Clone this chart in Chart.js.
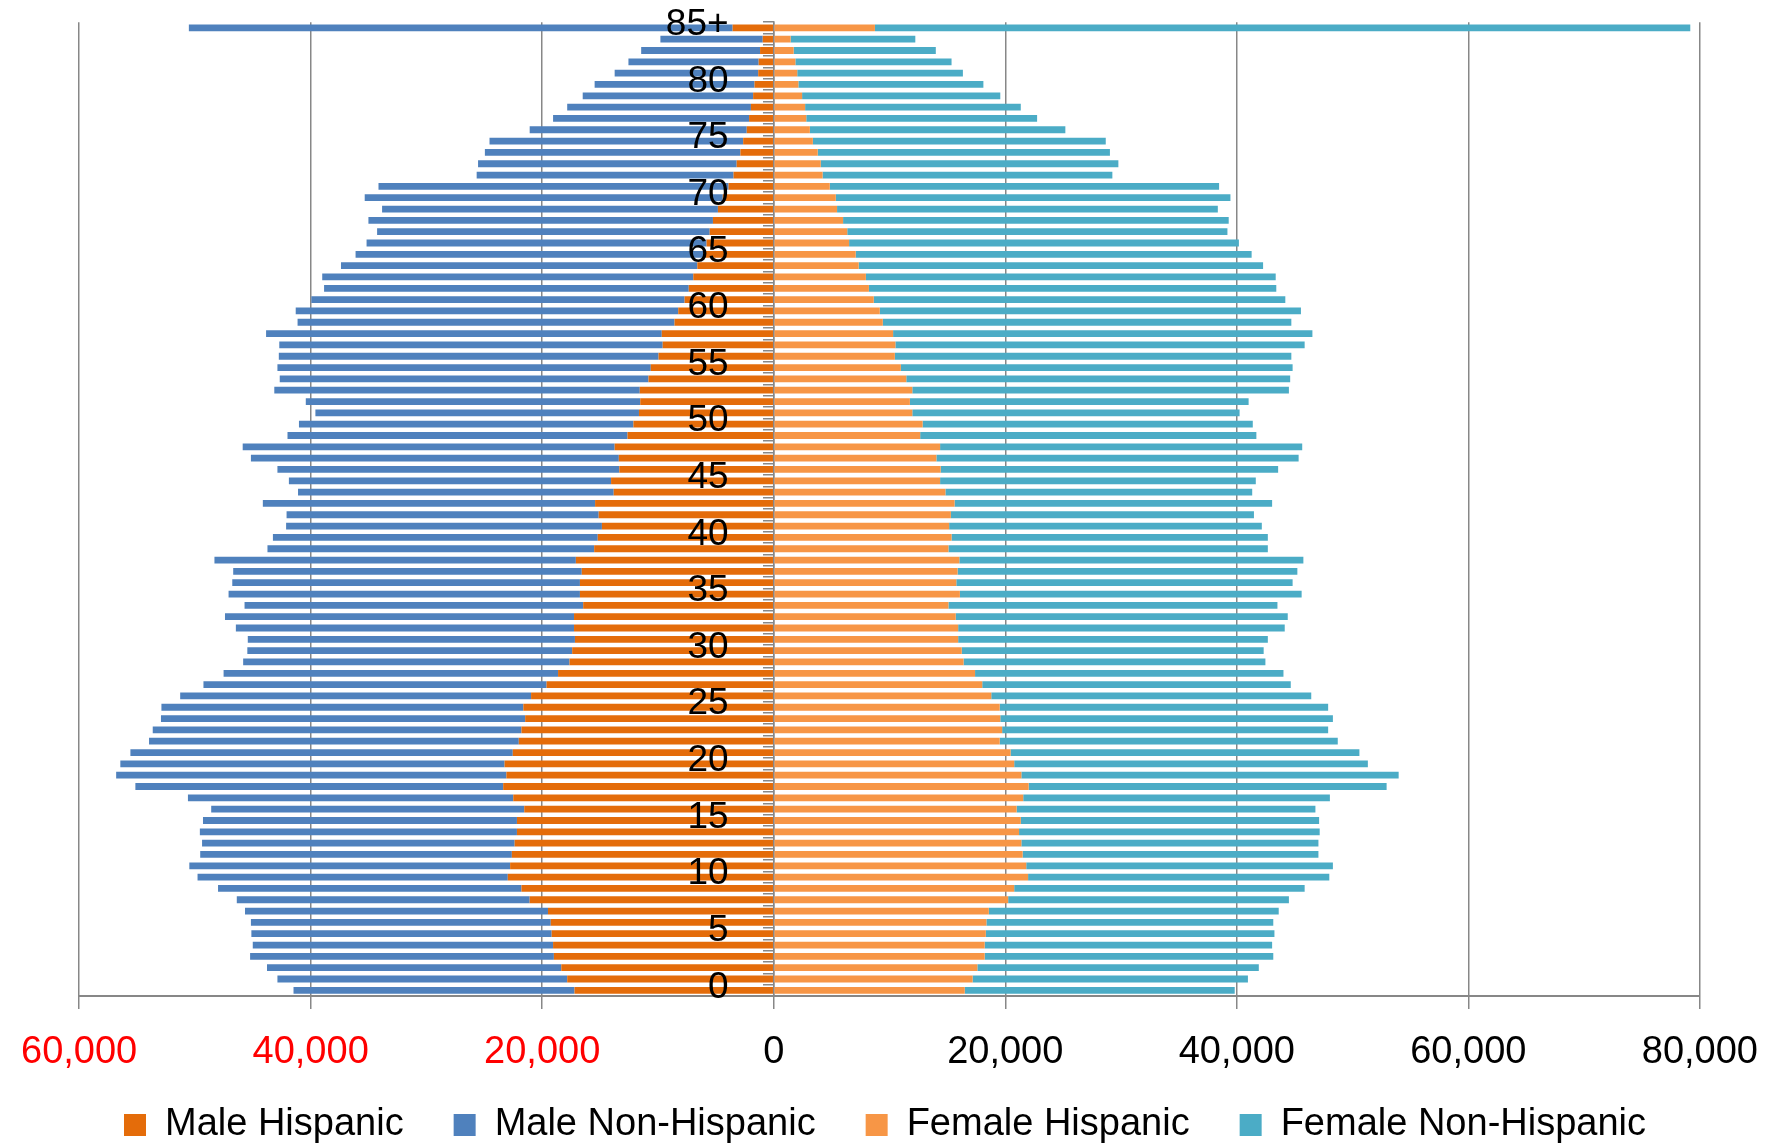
<!DOCTYPE html>
<html>
<head>
<meta charset="utf-8">
<script src="https://cdn.jsdelivr.net/npm/chart.js@4"></script>
<style>
  html, body { margin: 0; padding: 0; background: #fff; }
  #wrap { width: 1779px; height: 1147px; position: relative; }
</style>
</head>
<body>
<div id="wrap"><canvas id="pyramid"></canvas></div>
<script>
// age groups, youngest first (axis is reversed so 0 sits at the bottom)
const ageLabels = ['0','1','2','3','4','5','6','7','8','9','10','11','12','13','14','15','16','17','18','19',
  '20','21','22','23','24','25','26','27','28','29','30','31','32','33','34','35','36','37','38','39',
  '40','41','42','43','44','45','46','47','48','49','50','51','52','53','54','55','56','57','58','59',
  '60','61','62','63','64','65','66','67','68','69','70','71','72','73','74','75','76','77','78','79',
  '80','81','82','83','84','85+'];

// population counts per age (males plotted to the left)
const maleHispanic = [17210,17840,18350,18990,19060,19180,19260,19500,21080,21790,
  22970,22770,22620,22380,22180,22180,21550,22500,23370,23090,
  23250,22540,22020,21790,21470,21630,20960,19620,18630,17640,
  17410,17170,17250,17250,16460,16740,16740,16580,17090,15510,
  15200,14840,15120,15430,13820,14050,13340,13380,13740,12630,
  12120,11640,11530,11570,10820,10620,9950,9590,9670,8570,
  8250,7700,7340,6950,6600,6100,5800,5530,5250,4820,
  4400,3900,3470,3200,2880,2640,2330,2130,1970,1780,
  1660,1340,1300,1180,950,3550];

const maleNonHispanic = [24270,25030,25420,26240,25940,25940,25900,26170,25300,26210,
  26800,27710,26920,27000,27390,27120,27040,28100,31770,33710,
  33190,33030,31940,31850,31460,31260,30310,29640,28890,28190,
  28060,28260,29210,30150,29250,30350,30030,30110,31220,28220,
  28060,27280,26960,28700,27270,27830,29530,31780,32130,29370,
  28890,27950,28890,31570,31850,32250,32800,33120,34180,32560,
  33040,32240,31500,32050,30780,30020,29370,28730,29760,29010,
  30930,30240,22190,22340,22070,21910,18750,16930,15870,14720,
  13810,12400,11250,10270,8840,46970];

const femaleHispanic = [16500,17180,17590,18220,18220,18320,18370,18580,20250,20770,
  21970,21810,21500,21390,21190,21340,20980,21550,22020,21390,
  20770,20460,19520,19730,19570,19520,18790,18010,17390,16400,
  16240,15930,15930,15720,15090,16080,15770,15880,16030,15090,
  15360,15150,15300,15620,14830,14370,14420,14050,14370,12650,
  12860,11970,11760,11970,11450,10980,10460,10510,10310,9420,
  9160,8640,8220,7960,7340,7080,6510,6350,5990,5470,
  5360,4840,4220,4060,3800,3380,3120,2810,2710,2450,
  2130,2030,1870,1720,1460,8740];

const femaleNonHispanic = [23320,23780,24310,24930,24830,24930,24780,25040,24250,25090,
  26020,26490,25550,25660,25970,25770,25810,26490,30920,32590,
  30550,30130,29200,28160,28730,28370,27640,26650,26640,26070,
  26080,26750,28210,28680,28420,29520,29050,29350,29720,27590,
  27320,27010,26180,27430,26500,27270,29150,31290,31280,29040,
  28520,28270,29260,32530,33160,33840,34250,35350,36220,35290,
  36380,35550,35190,35400,34930,34200,33670,32840,33310,32890,
  34090,33630,25030,25710,25240,25300,22070,19940,18630,17120,
  15980,14310,13490,12280,10770,70430];

const xMin = -60000;
const xMax = 80000;
const xStep = 20000;

const FONT = "'Liberation Sans', Arial, sans-serif";
const GRID = '#878787';

function showAge(label, i) {
  // only every fifth age is written, plus the open-ended top group
  return (i % 5 === 0 || label === '85+') ? label : '';
}

// pull the legend up closer to the tick labels (its padding also sets the gap between items)
const legendNudge = {
  id: 'legendNudge',
  afterLayout(chart) {
    chart.legend.top -= 20;
    chart.legend.bottom -= 20;
  }
};

const ctx = document.getElementById('pyramid').getContext('2d');
new Chart(ctx, {
  type: 'bar',
  data: {
    labels: ageLabels,
    datasets: [
      { label: 'Male Hispanic', data: maleHispanic.map(v => -v), backgroundColor: '#E46C0A' },
      { label: 'Male Non-Hispanic', data: maleNonHispanic.map(v => -v), backgroundColor: '#4F81BD' },
      { label: 'Female Hispanic', data: femaleHispanic, backgroundColor: '#F79646' },
      { label: 'Female Non-Hispanic', data: femaleNonHispanic, backgroundColor: '#4BACC6' }
    ]
  },
  plugins: [legendNudge],
  options: {
    indexAxis: 'y',
    responsive: true,
    maintainAspectRatio: false,
    animation: false,
    layout: { padding: { top: 18, left: 70, right: 79, bottom: -27 } },
    datasets: { bar: { barPercentage: 0.6, categoryPercentage: 1.0, borderWidth: 0 } },
    scales: {
      x: {
        type: 'linear',
        min: xMin,
        max: xMax,
        stacked: true,
        grid: { color: GRID, lineWidth: 1.5, tickLength: 13 },
        border: { color: GRID, width: 2 },
        ticks: {
          stepSize: xStep,
          padding: 21,
          font: { family: FONT, size: 38 },
          color: c => c.tick.value < 0 ? '#FF0000' : '#000000',
          callback: v => Math.abs(v).toLocaleString('en-US')
        },
        afterFit: s => { s.height = 80; }
      },
      y: {
        type: 'category',
        position: { x: 0 },
        reverse: true,
        stacked: true,
        offset: true,
        grid: { drawOnChartArea: false, drawTicks: true, tickLength: 10, color: GRID, lineWidth: 1.5, offset: true },
        border: { color: GRID, width: 1.5 },
        ticks: { display: false, autoSkip: false }
      },
      ageAxis: {
        type: 'category',
        axis: 'y',
        position: { x: -3900 },
        reverse: true,
        offset: true,
        grid: { display: false },
        border: { display: false },
        ticks: {
          z: 1,
          autoSkip: false,
          padding: 0,
          labelOffset: -3,
          color: '#000000',
          font: { family: FONT, size: 37 },
          callback: function (v, i) { return showAge(this.getLabelForValue(v), i); }
        }
      }
    },
    plugins: {
      tooltip: { enabled: false },
      legend: {
        position: 'bottom',
        labels: {
          boxWidth: 22,
          boxHeight: 22,
          padding: 50,
          color: '#000000',
          font: { family: FONT, size: 38 }
        }
      }
    }
  }
});
</script>
</body>
</html>
